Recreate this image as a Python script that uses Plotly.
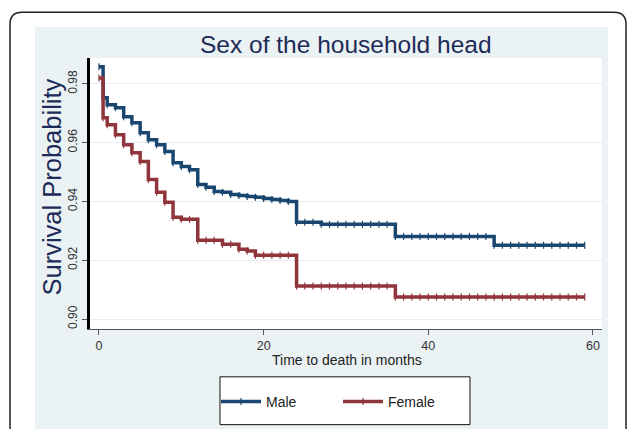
import plotly.graph_objects as go

# ---- data ----
months = [0, 0.5] + list(range(1, 60))

male_surv = [0.9858, 0.9753, 0.9729, 0.9719, 0.9688, 0.9668, 0.9634, 0.9610, 0.9593, 0.9570,
             0.9532, 0.9519, 0.9508, 0.9458, 0.9448, 0.9434, 0.9431, 0.9424, 0.9420, 0.9417,
             0.9414, 0.9410, 0.9407, 0.9403, 0.9400, 0.9329, 0.9329, 0.9329] \
            + [0.9322] * 9 + [0.9281] * 12 + [0.9251] * 12

female_surv = [0.9820, 0.9685, 0.9661, 0.9627, 0.9593, 0.9566, 0.9536, 0.9475, 0.9431, 0.9397,
               0.9346, 0.9339, 0.9339, 0.9268, 0.9268, 0.9268, 0.9254, 0.9254, 0.9237, 0.9231,
               0.9217, 0.9217, 0.9217, 0.9217, 0.9217] \
              + [0.9112] * 12 + [0.9075] * 24

series_names = ["Male", "Female"]
series_colors = ["#1a476f", "#90353b"]

title_text = "Sex of the household head"
x_title = "Time to death in months"
y_title = "Survival Probability"
x_ticks = [0, 20, 40, 60]
y_ticks = [0.90, 0.92, 0.94, 0.96, 0.98]

W, H = 629, 429
L, R, T, B = 90, 27, 58, 99
pw, ph = W - L - R, H - T - B
FONT = "Arial, Liberation Sans, sans-serif"


def px(x):
    return (x - L) / pw


def py(y):
    return (H - B - y) / ph


fig = go.Figure()
for name, vals, col in zip(series_names, [male_surv, female_surv], series_colors):
    fig.add_trace(go.Scatter(
        x=months, y=vals, name=name, mode="lines+markers",
        line=dict(color=col, width=3.5, shape="hv"),
        marker=dict(symbol="line-ns-open", size=5, color=col, line=dict(color=col, width=1.2)),
    ))

shapes = []
# light outer background
shapes.append(dict(type="rect", xref="paper", yref="paper",
                   x0=px(35), x1=px(608), y0=py(440), y1=py(27),
                   fillcolor="#eaf2f3", line=dict(width=0), layer="below"))
# white plot area
shapes.append(dict(type="rect", xref="paper", yref="paper",
                   x0=0, x1=1, y0=0, y1=1,
                   fillcolor="white", line=dict(width=0), layer="below"))
# legend box
shapes.append(dict(type="rect", xref="paper", yref="paper",
                   x0=px(220), x1=px(470), y0=py(426), y1=py(378),
                   fillcolor="white", line=dict(color="#111111", width=1), layer="below"))
# rounded outer frame
xl, xr, yt, yb = px(10), px(626), py(12), py(445)
dx, dy = 12 / pw, 12 / ph
path = (f"M {xl},{yb} L {xl},{yt - dy} Q {xl},{yt} {xl + dx},{yt} "
        f"L {xr - dx},{yt} Q {xr},{yt} {xr},{yt - dy} L {xr},{yb}")
shapes.append(dict(type="path", xref="paper", yref="paper", path=path,
                   line=dict(color="#222222", width=1.5), layer="below"))

annotations = [
    dict(text=title_text, xref="paper", yref="paper", x=px(346), y=py(44),
         xanchor="center", yanchor="middle", showarrow=False,
         font=dict(size=24.5, color="#1e2b58", family=FONT)),
    dict(text=y_title, xref="paper", yref="paper", x=px(52), y=py(188),
         xanchor="center", yanchor="middle", showarrow=False, textangle=-90,
         font=dict(size=25.5, color="#1e2b58", family=FONT)),
    dict(text=x_title, xref="paper", yref="paper", x=px(346.5), y=py(361),
         xanchor="center", yanchor="middle", showarrow=False,
         font=dict(size=14, color="#222222", family=FONT)),
]

fig.update_layout(
    width=W, height=H,
    margin=dict(l=L, r=R, t=T, b=B, pad=0),
    paper_bgcolor="white", plot_bgcolor="rgba(0,0,0,0)",
    font=dict(family=FONT, color="#333333"),
    shapes=shapes, annotations=annotations,
    showlegend=True,
    legend=dict(orientation="h", x=px(216), y=py(402), xanchor="left", yanchor="middle",
                bgcolor="rgba(0,0,0,0)", borderwidth=0,
                font=dict(size=14, color="#222222"), entrywidth=67,
                itemwidth=40),
)
fig.update_xaxes(range=[-1.09, 61.1], tickvals=x_ticks, ticks="outside", ticklen=5,
                 tickcolor="#555555", showgrid=False, zeroline=False,
                 showline=True, linecolor="#555555", linewidth=1,
                 tickfont=dict(size=12.5, color="#333333"))
fig.update_yaxes(range=[0.8966, 0.9888], tickvals=y_ticks, tickformat=".2f",
                 ticks="outside", ticklen=5, tickcolor="#555555", tickangle=-90,
                 showgrid=True, gridcolor="#e6eef2", gridwidth=1, zeroline=False,
                 showline=True, linecolor="black", linewidth=3,
                 tickfont=dict(size=12, color="#333333"))

fig.write_html("out.html", config={"displayModeBar": False},
               post_script="document.body.style.margin='0';")
